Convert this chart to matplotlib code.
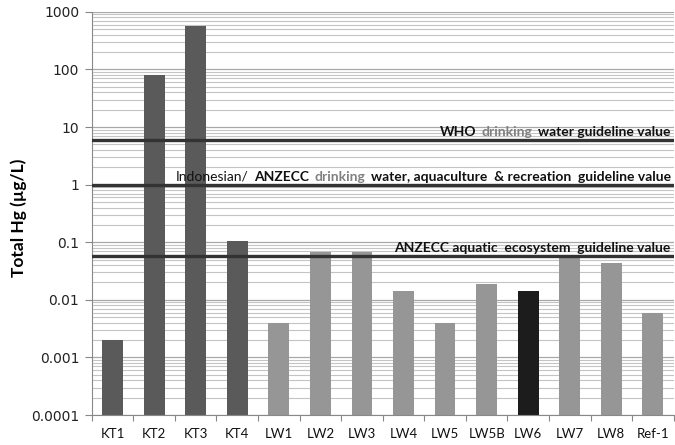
import matplotlib
matplotlib.use("Agg")
import matplotlib.pyplot as plt
import numpy as np
from matplotlib.offsetbox import TextArea, HPacker, AnnotationBbox

sites = ["KT1", "KT2", "KT3", "KT4", "LW1", "LW2", "LW3", "LW4", "LW5", "LW5B", "LW6", "LW7", "LW8", "Ref-1"]
hg = [0.002, 80, 560, 0.105, 0.004, 0.067, 0.067, 0.014, 0.004, 0.019, 0.014, 0.06, 0.044, 0.006]
colors = ["#5a5a5a"] * 4 + ["#969696"] * 6 + ["#1c1c1c"] + ["#969696"] * 3

guide_vals = [6, 1, 0.057]
ymin, ymax = 1e-4, 1000
yticks = [0.0001, 0.001, 0.01, 0.1, 1, 10, 100, 1000]
ytick_labels = ["0.0001", "0.001", "0.01", "0.1", "1", "10", "100", "1000"]

fig = plt.figure(figsize=(6.75, 4.45), dpi=100)
ax = fig.add_axes([0.136, 0.0674, 0.862, 0.906])
ax.set_yscale("log")
ax.set_ylim(ymin, ymax)
x = np.arange(len(sites))
ax.set_xlim(-0.5, len(sites) - 0.5)

ax.set_yticks(yticks)
ax.set_yticklabels(ytick_labels, fontsize=10, color="#222222")
ax.yaxis.set_minor_locator(matplotlib.ticker.LogLocator(base=10, subs=np.arange(2, 10)))
ax.yaxis.set_minor_formatter(matplotlib.ticker.NullFormatter())
ax.grid(True, which="major", axis="y", color="#a8a8a8", lw=0.9)
ax.grid(True, which="minor", axis="y", color="#c4c4c4", lw=0.8)
ax.set_axisbelow(True)
ax.tick_params(axis="y", which="minor", length=0)
ax.tick_params(axis="y", which="major", length=5, color="#888888", pad=4)

ax.bar(x, np.array(hg) - ymin, bottom=ymin, width=0.5, color=colors, zorder=2)

for g in guide_vals:
    ax.axhline(g, color="#333333", lw=2.4, zorder=3)

ax.set_xticks(np.arange(-0.5, len(sites)), minor=False)
ax.set_xticklabels([])
ax.set_xticks(x, minor=True)
ax.set_xticklabels(sites, minor=True, fontsize=9.5, family="Lato", color="#111111")
ax.tick_params(axis="x", which="major", length=4, color="#888888")
ax.tick_params(axis="x", which="minor", length=0, pad=9)

for s in ["top", "right"]:
    ax.spines[s].set_visible(False)
for s in ["left", "bottom"]:
    ax.spines[s].set_color("#888888")

ax.set_ylabel("Total Hg (\u00b5g/L)", fontsize=12.5, fontweight="bold", family="Lato")
ax.yaxis.set_label_coords(-0.112, 0.49)

def label(parts, yval, xfrac=0.995):
    areas = []
    for txt, col, wt in parts:
        areas.append(TextArea(txt, textprops=dict(color=col, fontsize=10, fontweight=wt, family="Lato")))
    box = HPacker(children=areas, align="baseline", pad=0, sep=4)
    ab = AnnotationBbox(box, (xfrac, yval), xycoords=("axes fraction", "data"),
                        xybox=(0, 1.5), boxcoords="offset points",
                        box_alignment=(1, 0), frameon=False, pad=0, zorder=5)
    ax.add_artist(ab)

label([("WHO", "#111111", "bold"), ("drinking", "#808080", "bold"),
       ("water guideline value", "#111111", "bold")], guide_vals[0])
label([("Indonesian/", "#111111", "normal"), ("ANZECC", "#111111", "bold"),
       ("drinking", "#808080", "bold"),
       ("water, aquaculture  & recreation  guideline value", "#111111", "bold")], guide_vals[1])
label([("ANZECC aquatic  ecosystem  guideline value", "#111111", "bold")], guide_vals[2])

fig.savefig("out.png", dpi=100)
